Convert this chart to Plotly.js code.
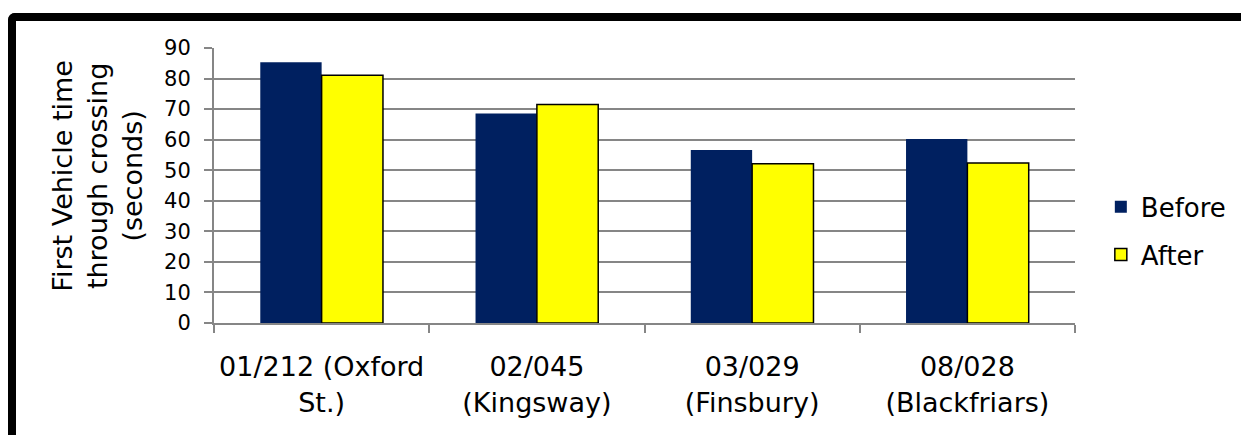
<!DOCTYPE html>
<html>
<head>
<meta charset="utf-8">
<script src="https://cdn.plot.ly/plotly-3.0.1.min.js"></script>
<style>
  html, body { margin: 0; padding: 0; background: #fff; overflow: hidden; }
  #wrap { position: relative; width: 1241px; height: 435px; }
  #chart { position: absolute; left: 0; top: 0; width: 1241px; height: 435px; }
  #frame { position: absolute; left: 8px; top: 13px; width: 1400px; height: 600px;
           border-left: 8px solid #000; border-top: 8px solid #000;
           border-top-left-radius: 7px; pointer-events: none; }
</style>
</head>
<body>
<div id="wrap">
  <div id="chart"></div>
  <div id="frame"></div>
</div>
<script>
const categories = [
  "01/212 (Oxford<br>St.)",
  "02/045<br>(Kingsway)",
  "03/029<br>(Finsbury)",
  "08/028<br>(Blackfriars)"
];
const beforeValues = [85.3, 68.6, 56.6, 60.2];
const afterValues = [81.1, 71.5, 52.1, 52.4];
const seriesNames = ["Before", "After"];
const yTitle = "First Vehicle time<br>through crossing<br>(seconds)";

const FONT = "DejaVu Sans, Verdana, sans-serif";

const traces = [
  {
    type: "bar", name: seriesNames[0], x: categories, y: beforeValues,
    marker: { color: "#002060", line: { width: 0 } },
    legendgroup: "a", hoverinfo: "skip"
  },
  {
    type: "bar", name: seriesNames[1], x: categories, y: afterValues,
    marker: { color: "#FFFF00", line: { color: "#000000", width: 1.5 } },
    legendgroup: "b", hoverinfo: "skip"
  }
];

const layout = {
  width: 1241, height: 435,
  margin: { l: 214, r: 166, t: 48, b: 112, pad: 0, autoexpand: false },
  paper_bgcolor: "rgba(0,0,0,0)", plot_bgcolor: "rgba(0,0,0,0)",
  font: { family: FONT, size: 26, color: "#000" },
  barmode: "group", bargap: 0.43, bargroupgap: 0,
  showlegend: true,
  legend: {
    x: 1.03, xanchor: "left", y: 0.335, yanchor: "middle",
    font: { family: FONT, size: 26, color: "#000" },
    traceorder: "grouped", tracegroupgap: 11,
    bgcolor: "rgba(0,0,0,0)", borderwidth: 0
  },
  annotations: [{
    text: yTitle, xref: "paper", yref: "paper",
    x: -0.135, y: 0.535, xanchor: "center", yanchor: "middle",
    textangle: -90, showarrow: false, align: "center",
    font: { family: FONT, size: 27, color: "#000" }
  }],
  xaxis: {
    type: "category",
    showline: true, linecolor: "#868686", linewidth: 2,
    ticks: "outside", tickson: "boundaries", ticklen: 8, tickcolor: "#868686", tickwidth: 2,
    showgrid: false, zeroline: false,
    tickangle: 0, automargin: false,
    tickfont: { family: FONT, size: 27, color: "#000" },
    ticklabelstandoff: 19,
    fixedrange: true
  },
  yaxis: {
    range: [0, 90], dtick: 10, tick0: 0,
    showline: true, linecolor: "#868686", linewidth: 2,
    ticks: "outside", ticklen: 8, tickcolor: "#868686", tickwidth: 2,
    showgrid: true, gridcolor: "#868686", gridwidth: 2,
    zeroline: false, automargin: false,
    tickfont: { family: FONT, size: 21, color: "#000" },
    ticklabelstandoff: 9,
    fixedrange: true
  }
};

Plotly.newPlot("chart", traces, layout, { displayModeBar: false, staticPlot: true });
</script>
</body>
</html>
